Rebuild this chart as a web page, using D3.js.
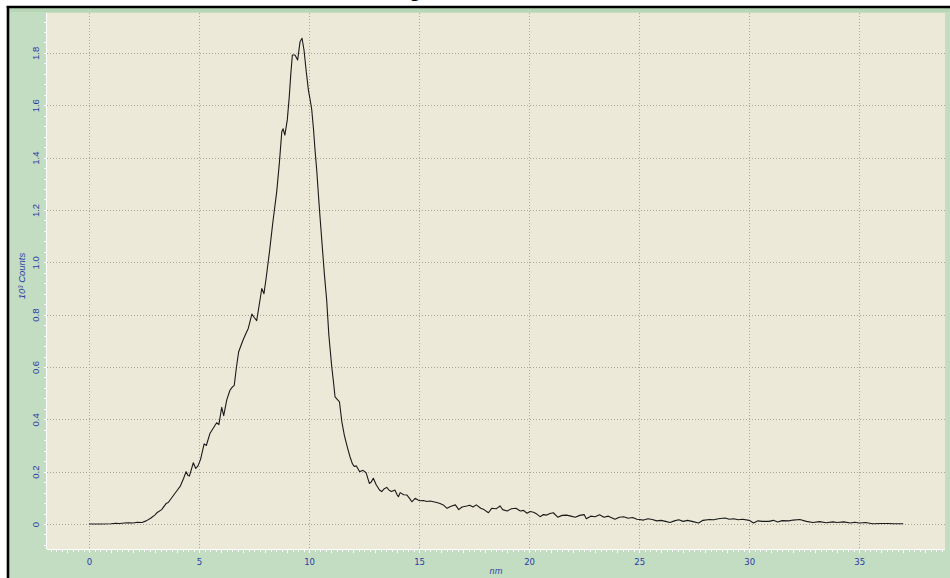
<!DOCTYPE html>
<html><head><meta charset="utf-8">
<script src="https://cdn.jsdelivr.net/npm/d3@7"></script>
<style>body{margin:0;background:#fff}svg{display:block}</style>
</head><body>
<svg id="c" width="950" height="578"></svg>
<script>
const titleText = "g";
const xLabel = "nm";
const yLabel = "10³ Counts";
const xTicks = [0,5,10,15,20,25,30,35];
const yTicks = [0,0.2,0.4,0.6,0.8,1.0,1.2,1.4,1.6,1.8];
const sizes = [0,0.5,1.0,1.2,1.4,1.6,1.8,2.0,2.2,2.4,2.6,2.8,3.0,3.1,3.3,3.5,3.6,3.8,4.0,4.15,4.3,4.41,4.5,4.56,4.74,4.85,4.95,5.07,5.23,5.33,5.5,5.6,5.8,5.9,6.03,6.12,6.26,6.4,6.5,6.6,6.7,6.8,7.0,7.12,7.24,7.4,7.5,7.62,7.77,7.85,7.95,8.05,8.2,8.35,8.53,8.65,8.76,8.82,8.9,9.01,9.1,9.17,9.24,9.36,9.48,9.59,9.68,9.77,9.87,9.97,10.05,10.12,10.2,10.27,10.35,10.42,10.5,10.6,10.7,10.8,10.9,11.03,11.1,11.18,11.3,11.38,11.49,11.6,11.75,11.86,11.97,12.05,12.15,12.3,12.45,12.59,12.74,12.82,12.92,13.05,13.2,13.3,13.42,13.53,13.65,13.75,13.9,14.0,14.06,14.14,14.3,14.44,14.55,14.67,14.82,14.95,15.05,15.2,15.35,15.5,15.65,15.8,15.95,16.1,16.27,16.45,16.65,16.8,16.95,17.17,17.3,17.45,17.6,17.8,17.95,18.15,18.3,18.5,18.68,18.8,19.0,19.2,19.4,19.6,19.75,19.9,20.05,20.2,20.35,20.5,20.65,20.8,20.95,21.1,21.3,21.5,21.7,21.9,22.1,22.3,22.5,22.6,22.8,23.0,23.2,23.4,23.6,23.75,23.9,24.1,24.3,24.5,24.7,24.9,25.2,25.4,25.6,25.8,26.0,26.2,26.4,26.6,26.8,27.0,27.2,27.45,27.7,27.9,28.2,28.4,28.6,28.9,29.1,29.3,29.5,29.7,30.0,30.2,30.4,30.6,30.9,31.1,31.3,31.5,31.8,32.0,32.3,32.6,32.9,33.2,33.5,33.8,34.0,34.3,34.6,34.8,35.0,35.3,35.6,36.0,36.3,36.6,37.0];
const counts = [0,0,0.001,0.003,0.002,0.004,0.005,0.004,0.007,0.006,0.012,0.022,0.035,0.044,0.055,0.078,0.082,0.105,0.128,0.145,0.175,0.2,0.185,0.183,0.234,0.212,0.222,0.247,0.306,0.3,0.347,0.36,0.387,0.38,0.446,0.414,0.474,0.51,0.522,0.53,0.6,0.658,0.703,0.726,0.748,0.802,0.79,0.777,0.856,0.9,0.88,0.94,1.04,1.15,1.27,1.38,1.499,1.51,1.486,1.544,1.633,1.72,1.792,1.792,1.773,1.843,1.856,1.811,1.73,1.658,1.62,1.584,1.51,1.43,1.35,1.264,1.17,1.06,0.95,0.856,0.72,0.601,0.55,0.486,0.474,0.467,0.39,0.34,0.29,0.257,0.23,0.22,0.222,0.2,0.205,0.196,0.155,0.16,0.175,0.15,0.13,0.124,0.135,0.14,0.128,0.124,0.13,0.112,0.104,0.12,0.112,0.111,0.1,0.085,0.098,0.092,0.089,0.09,0.086,0.088,0.085,0.082,0.078,0.073,0.06,0.068,0.073,0.055,0.065,0.069,0.072,0.065,0.073,0.06,0.055,0.043,0.06,0.058,0.069,0.055,0.05,0.058,0.06,0.05,0.052,0.041,0.048,0.045,0.038,0.028,0.036,0.034,0.04,0.043,0.026,0.033,0.034,0.03,0.026,0.033,0.036,0.02,0.03,0.028,0.035,0.026,0.03,0.024,0.018,0.026,0.028,0.022,0.025,0.018,0.015,0.02,0.017,0.012,0.014,0.01,0.006,0.012,0.016,0.01,0.014,0.009,0.004,0.014,0.017,0.016,0.02,0.023,0.018,0.02,0.016,0.018,0.014,0.004,0.012,0.01,0.01,0.014,0.008,0.013,0.012,0.015,0.017,0.01,0.006,0.009,0.005,0.008,0.006,0.008,0.004,0.007,0.004,0.006,0.001,0.002,0.002,0.001,0.001];

const svg = d3.select("#c");
const plot = {l:47, r:945, t:13, b:549};
const x = d3.scaleLinear().domain([-1.91, 38.9]).range([plot.l, plot.r]);
const y = d3.scaleLinear().domain([-0.0955, 1.9525]).range([plot.b, plot.t]);

// title fragment (cut off at top, as in the reference)
svg.append("text").attr("x",415).attr("y",-3).attr("text-anchor","middle")
  .attr("font-family","Open Sans, Liberation Sans, sans-serif").attr("font-size",17).attr("fill","#000").text(titleText);

// outer frame
svg.append("rect").attr("x",9).attr("y",8).attr("width",960).attr("height",600).attr("fill","#c2ddc2");
svg.append("rect").attr("x",9).attr("y",8).attr("width",960).attr("height",4).attr("fill","#b6d6b6");
svg.append("line").attr("x1",8).attr("x2",8).attr("y1",6).attr("y2",600).attr("stroke","#000").attr("stroke-width",2.6);
svg.append("line").attr("x1",6.7).attr("x2",960).attr("y1",7).attr("y2",7).attr("stroke","#000").attr("stroke-width",2.6);

// plot area
svg.append("rect").attr("x",plot.l).attr("y",plot.t).attr("width",plot.r-plot.l).attr("height",plot.b-plot.t).attr("fill","#ece9d8");

// grid
const g = svg.append("g");
g.selectAll(".vg").data(xTicks).join("line")
  .attr("x1",d=>Math.round(x(d))+0.5).attr("x2",d=>Math.round(x(d))+0.5)
  .attr("y1",plot.t).attr("y2",plot.b).attr("stroke","#a8a898").attr("stroke-dasharray","1,2");
g.selectAll(".hg").data(yTicks).join("line")
  .attr("y1",d=>Math.round(y(d))+0.5).attr("y2",d=>Math.round(y(d))+0.5)
  .attr("x1",plot.l).attr("x2",plot.r).attr("stroke","#a8a898").attr("stroke-dasharray","1,2");

// white edges + minor ticks
svg.append("line").attr("x1",plot.l).attr("x2",plot.r).attr("y1",plot.b+0.5).attr("y2",plot.b+0.5).attr("stroke","#fff");
svg.append("line").attr("x1",plot.l-0.5).attr("x2",plot.l-0.5).attr("y1",plot.t).attr("y2",plot.b).attr("stroke","#fff");
const xMinor = d3.range(-1.75, 38.9, 0.25);
svg.append("g").selectAll("line").data(xMinor).join("line")
  .attr("x1",d=>Math.round(x(d))+0.5).attr("x2",d=>Math.round(x(d))+0.5)
  .attr("y1",plot.b).attr("y2",d=>plot.b + (Math.abs(d - Math.round(d))<1e-6 ? 4 : 3)).attr("stroke","#fff");
const yMinor = d3.range(-0.08, 1.95, 0.04);
svg.append("g").selectAll("line").data(yMinor).join("line")
  .attr("y1",d=>Math.round(y(d))+0.5).attr("y2",d=>Math.round(y(d))+0.5)
  .attr("x1",plot.l).attr("x2",plot.l-3).attr("stroke","#fff");

// axes labels via d3 axes
const xAxis = d3.axisBottom(x).tickValues(xTicks).tickSize(0).tickPadding(0).tickFormat(d3.format("d"));
const xa = svg.append("g").attr("transform",`translate(0,${plot.b+10})`).call(xAxis);
xa.select(".domain").remove();
xa.selectAll("text").attr("fill","#2a3aa8").attr("font-family","Verdana, DejaVu Sans, sans-serif").attr("font-size",8.5).attr("dy","0.71em");

const yAxis = d3.axisLeft(y).tickValues(yTicks).tickSize(0).tickFormat(d=> d===0 ? "0" : d3.format(".1f")(d));
const ya = svg.append("g").attr("transform","translate(35,0)").call(yAxis);
ya.select(".domain").remove();
ya.selectAll(".tick text").attr("x",0).attr("y",0).attr("dy",0).attr("text-anchor","middle")
  .attr("transform","rotate(-90)").attr("dominant-baseline","central")
  .attr("fill","#2a3aa8").attr("font-family","Liberation Sans Narrow, Liberation Sans, sans-serif").attr("font-size",9.5);

svg.append("text").attr("x",496).attr("y",574).attr("text-anchor","middle")
  .attr("font-family","Verdana, DejaVu Sans, sans-serif").attr("font-size",8).attr("font-style","italic").attr("fill","#2a3aa8").text(xLabel);
svg.append("text").attr("transform","translate(21,276) rotate(-90)").attr("text-anchor","middle").attr("dominant-baseline","central")
  .attr("font-family","Liberation Sans Narrow, Liberation Sans, sans-serif").attr("font-size",9.5).attr("font-style","italic").attr("fill","#2a3aa8").text(yLabel);

// curve
const data = sizes.map((s,i)=>({s, c:counts[i]}));
svg.append("path").datum(data)
  .attr("d", d3.line().x(d=>x(d.s)).y(d=>y(d.c)))
  .attr("fill","none").attr("stroke","#1a1a1a").attr("stroke-width",1.1).attr("stroke-linejoin","round");
</script>
</body></html>
